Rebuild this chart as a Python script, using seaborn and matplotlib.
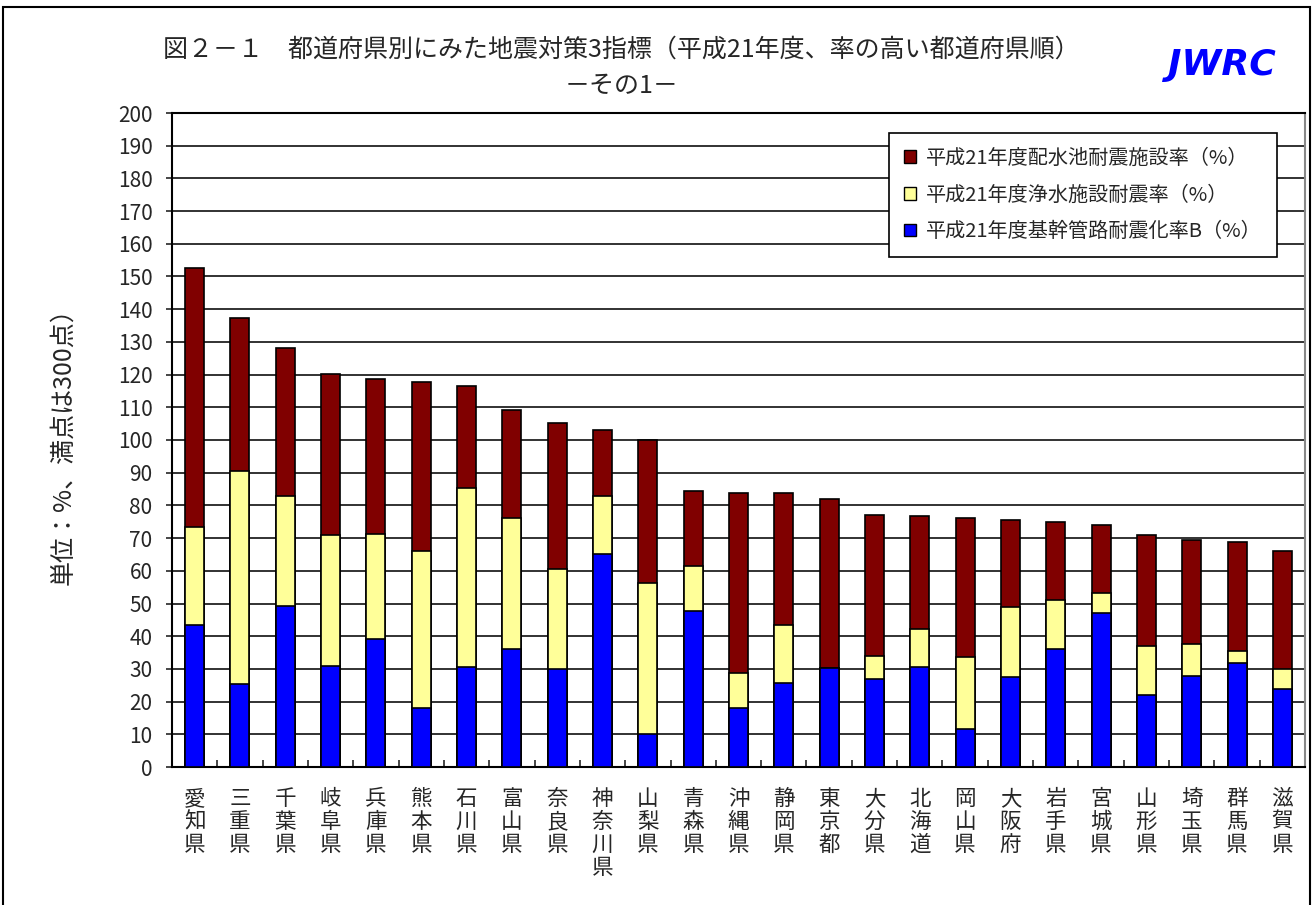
import pandas as pd
import matplotlib
matplotlib.use("Agg")
import matplotlib.pyplot as plt
import seaborn as sns
from matplotlib.patches import Patch, Rectangle
from matplotlib.ticker import MultipleLocator

# prefectures, sorted by total
prefs = ['愛知県', '三重県', '千葉県', '岐阜県', '兵庫県', '熊本県', '石川県', '富山県',
         '奈良県', '神奈川県', '山梨県', '青森県', '沖縄県', '静岡県', '東京都', '大分県',
         '北海道', '岡山県', '大阪府', '岩手県', '宮城県', '山形県', '埼玉県', '群馬県', '滋賀県']

# 基幹管路耐震化率B
pipe = [43.4, 25.3, 49.1, 30.9, 39.2, 17.9, 30.5, 36.2, 29.9, 65.2, 10.1, 47.6, 17.9,
        25.8, 30.4, 26.8, 30.5, 11.7, 27.4, 36.2, 47.0, 22.1, 27.8, 31.9, 23.8]
# 浄水施設耐震率
plant = [30.1, 65.3, 33.7, 40.0, 32.1, 48.2, 54.8, 39.9, 30.6, 17.6, 46.3, 13.9, 10.9,
         17.5, 0.0, 7.1, 11.8, 21.8, 21.6, 14.9, 6.3, 14.9, 9.8, 3.7, 6.1]
# 配水池耐震施設率
tank = [79.0, 46.8, 45.3, 49.4, 47.4, 51.5, 31.3, 33.2, 44.7, 20.3, 43.5, 23.0, 55.1,
        40.6, 51.5, 43.3, 34.4, 42.6, 26.6, 23.9, 20.7, 33.9, 31.7, 33.2, 36.3]

labels = ['平成21年度配水池耐震施設率（%）', '平成21年度浄水施設耐震率（%）', '平成21年度基幹管路耐震化率B（%）']
colors = ['#800000', '#FFFF99', '#0000FF']

df = pd.DataFrame({'pref': prefs, 'pipe': pipe, 'plant': plant, 'tank': tank})
df['lvl1'] = df['pipe']
df['lvl2'] = df['pipe'] + df['plant']
df['lvl3'] = df['lvl2'] + df['tank']

sns.set_style("white")
plt.rcParams['font.family'] = ['Noto Sans CJK JP', 'DejaVu Sans']

fig = plt.figure(figsize=(13.14, 9.05), dpi=100)
ax = fig.add_axes([172 / 1314, 138 / 905, 1133 / 1314, 654 / 905])

# stacked bars drawn as overlaid cumulative bars
for col, c in zip(['lvl3', 'lvl2', 'lvl1'], colors):
    sns.barplot(data=df, x='pref', y=col, color=c, width=0.42, edgecolor='black',
                linewidth=1.2, saturation=1, ax=ax, zorder=3)

ax.set_ylim(0, 200)
ax.set_xlim(-0.5, len(prefs) - 0.5)
ax.yaxis.set_major_locator(MultipleLocator(10))
ax.grid(axis='y', color='#222222', linewidth=1.3, zorder=0)
ax.set_axisbelow(True)
for s in ['left', 'bottom', 'top']:
    ax.spines[s].set_color('black')
    ax.spines[s].set_linewidth(1.5)
ax.spines['right'].set_color('#888888')
ax.spines['right'].set_linewidth(1.5)

ax.tick_params(axis='y', direction='out', length=4, width=1.2, pad=10, labelsize=15, left=True)
ax.set_xticks(range(len(prefs)))
ax.set_xticklabels(['\n'.join(p) for p in prefs], fontsize=15.5, linespacing=1.06, va='top')
ax.tick_params(axis='x', length=0, pad=15)
ax.set_xticks([i + 0.5 for i in range(len(prefs) - 1)], minor=True)
ax.tick_params(axis='x', which='minor', direction='in', length=5, width=1.2, bottom=True)
ax.set_xlabel('')
ax.set_ylabel('単位：%、満点は300点）', fontsize=18, labelpad=30)

handles = [Patch(facecolor=c, edgecolor='black', linewidth=1) for c in colors]
leg = ax.legend(handles, labels, loc='upper right', bbox_to_anchor=(0.975, 0.97),
                fontsize=14.5, frameon=True, fancybox=False, edgecolor='black',
                handlelength=0.6, handleheight=0.6, handletextpad=0.5,
                labelspacing=0.78, borderpad=0.75, borderaxespad=0, framealpha=1)
leg.get_frame().set_linewidth(1.2)
leg.set_zorder(5)

fig.text(0.473, 0.945, '図２－１　都道府県別にみた地震対策3指標（平成21年度、率の高い都道府県順）',
         ha='center', va='center', fontsize=18)
fig.text(0.473, 0.905, '－その1－', ha='center', va='center', fontsize=18)
fig.text(0.93, 0.928, 'JWRC', ha='center', va='center', fontsize=26, color='#0000FF',
         fontweight='bold', fontstyle='italic', family='DejaVu Sans')

fig.patches.append(Rectangle((3 / 1314, -0.01), 1307 / 1314, 1 - 7 / 905 + 0.01,
                             transform=fig.transFigure, fill=False, edgecolor='black',
                             linewidth=1.5))

fig.savefig('out.png', dpi=100)
